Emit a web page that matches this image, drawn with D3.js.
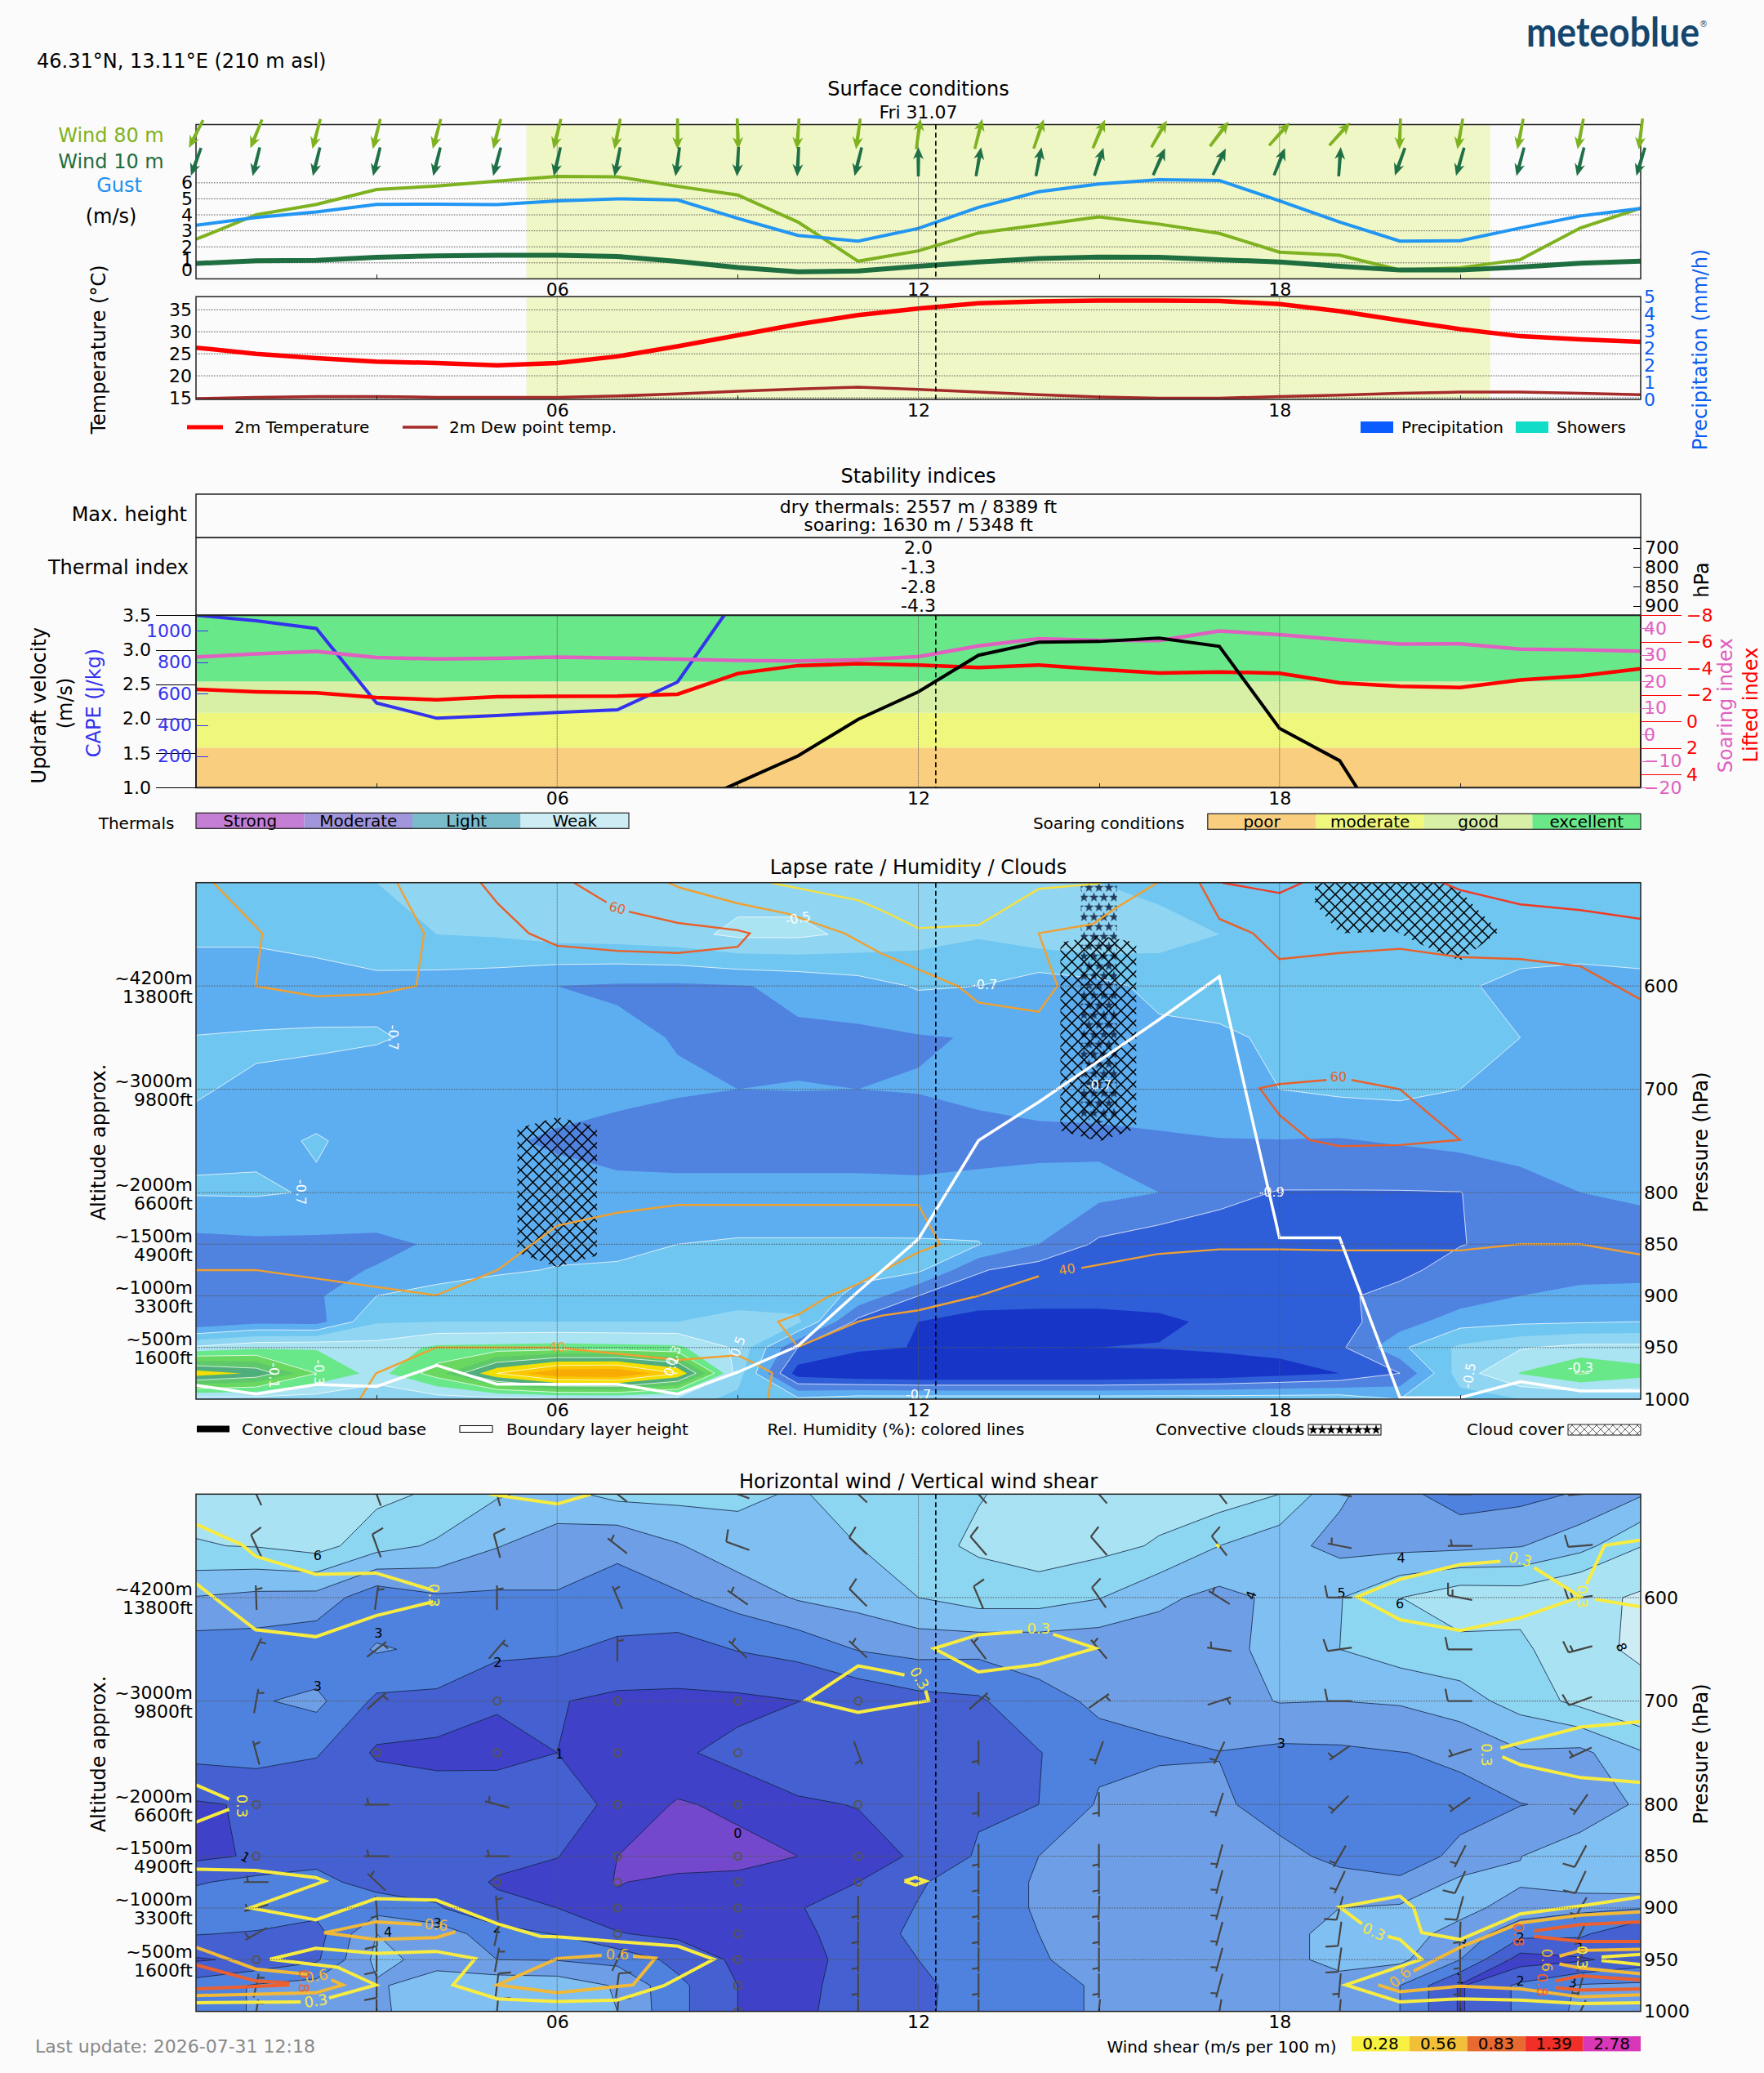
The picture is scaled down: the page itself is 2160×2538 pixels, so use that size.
<!DOCTYPE html>
<html>
<head>
<meta charset="utf-8">
<script src="https://cdn.jsdelivr.net/npm/d3@7"></script>
<style>
  html, body { margin: 0; padding: 0; background: #fbfbfb; }
  svg { display: block; font-family: "DejaVu Sans"; }
  .tick line { shape-rendering: crispEdges; }
</style>
</head>
<body>
<script>
// hours of the day, one value per hour
const hours = d3.range(25);
const hourTicks = [6, 12, 18];
const minorHourTicks = [3, 9, 15, 21];
const nowHour = 12.29;
const sunHours = [5.49, 21.5];

// surface conditions
const wind80 = [2.47,4.0,4.65,5.58,5.8,6.1,6.4,6.38,5.78,5.24,3.55,1.1,1.75,2.87,3.36,3.87,3.42,2.84,1.67,1.47,0.56,0.69,1.2,3.18,4.42];
const wind10 = [0.96,1.13,1.16,1.35,1.44,1.47,1.47,1.4,1.09,0.71,0.44,0.49,0.78,1.05,1.27,1.36,1.35,1.2,1.05,0.78,0.55,0.55,0.73,0.98,1.11];
const gust = [3.35,3.84,4.18,4.65,4.67,4.64,4.87,5.0,4.93,3.78,2.71,2.36,3.15,4.47,5.44,5.93,6.2,6.15,4.87,3.55,2.36,2.38,3.18,3.93,4.4];
const arrow80 = [207,202,195,194,195,194,194,191,180,178,184,188,8,14,19,23,30,37,42,42,182,190,191,191,187];
const arrow10 = [200,194,194,194,194,195,193,191,188,183,183,194,0,10,11,18,24,26,22,4,200,196,195,194,197];
const windTicks = [0,1,2,3,4,5,6];
const temperature = [26.4,25,24,23.2,22.9,22.4,22.9,24.4,26.7,29.2,31.7,33.8,35.3,36.5,36.9,37.1,37.1,37,36.3,34.7,32.6,30.6,29,28.3,27.7];
const dewPoint = [14.8,15.1,15.3,15.3,15.1,15.07,15.1,15.4,15.9,16.5,17,17.4,16.9,16.3,15.7,15.2,14.9,14.9,15.3,15.6,16,16.3,16.3,16,15.7];
const tempTicks = [15,20,25,30,35];
const precipTicks = [0,0.83,1.67,2.5,3.33,4.17,5];
const precipLabels = ["0","1","2","2","3","4","5"];

// stability indices
const capeHours = d3.range(10);
const cape = [1100,1065,1016,540,443,460,480,497,674,1225];
const updraftHours = d3.range(8,21);
const updraft = [0.68,1.07,1.46,1.99,2.39,2.92,3.11,3.12,3.17,3.05,1.86,1.39,0.02];
const soaring = [29.2,30.4,31.3,29,28.5,28.7,29.2,28.8,28.4,27.9,27.7,28.2,29.3,33.4,36.1,35.5,35.4,39,37.6,35.7,34.1,34.2,32.2,31.9,31.4];
const lifted = [-2.42,-2.24,-2.15,-1.81,-1.64,-1.87,-1.89,-1.91,-2.05,-3.61,-4.21,-4.35,-4.25,-4.06,-4.25,-3.92,-3.65,-3.73,-3.63,-2.91,-2.65,-2.56,-3.12,-3.43,-3.98];
const updraftTicks = [1,1.5,2,2.5,3,3.5];
const capeTicks = [200,400,600,800,1000];
const soaringTicks = [-20,-10,0,10,20,30,40];
const liftedTicks = [-8,-6,-4,-2,0,2,4];
const soarBands = [1,1.58,2.085,2.54,3.5];
const soarNames = ["poor","moderate","good","excellent"];
const soarColors = ["#f9cf7f","#eff77c","#d7f0a5","#69e88a"];
const thermalNames = ["Strong","Moderate","Light","Weak"];
const thermalColors = ["#c47ed4","#a195db","#7bbccc","#ceecf3"];
const thermalLevels = [700,800,850,900];
const thermalIndex = ["2.0","-1.3","-2.8","-4.3"];

// pressure levels of the model grid, top to bottom
const levels = [500,550,600,650,700,750,800,850,875,900,925,950,975,1000];
const pressureTicks = [600,700,800,850,900,950,1000];
const altitudeTicks = [600,700,800,850,900,950];
const altitudeM = ["~4200m","~3000m","~2000m","~1500m","~1000m","~500m"];
const altitudeFt = ["13800ft","9800ft","6600ft","4900ft","3300ft","1600ft"];

// lapse rate per level
const lapse500 = [-.65,-.65,-.63,-.60,-.57,-.56,-.55,-.55,-.55,-.54,-.54,-.55,-.55,-.56,-.58,-.60,-.63,-.64,-.65,-.65,-.65,-.65,-.65,-.65,-.65];
const lapse550 = [-.68,-.68,-.65,-.63,-.60,-.59,-.56,-.55,-.53,-.48,-.48,-.52,-.56,-.59,-.54,-.52,-.56,-.60,-.62,-.63,-.64,-.65,-.66,-.66,-.66];
const lapse600 = [-.76,-.76,-.76,-.73,-.745,-.76,-.80,-.812,-.815,-.805,-.785,-.745,-.69,-.70,-.757,-.73,-.67,-.66,-.64,-.64,-.65,-.69,-.72,-.73,-.72];
const lapse650 = [-.697,-.69,-.685,-.692,-.72,-.74,-.76,-.78,-.805,-.82,-.81,-.82,-.807,-.795,-.74,-.74,-.725,-.715,-.685,-.66,-.65,-.66,-.70,-.75,-.76];
const lapse700 = [-.695,-.71,-.73,-.75,-.76,-.77,-.77,-.77,-.79,-.80,-.798,-.80,-.795,-.78,-.76,-.76,-.74,-.72,-.70,-.681,-.674,-.70,-.74,-.77,-.785];
const lapse750 = [-.716,-.715,-.695,-.72,-.75,-.79,-.81,-.84,-.85,-.85,-.85,-.85,-.85,-.83,-.825,-.82,-.815,-.805,-.803,-.807,-.79,-.77,-.75,-.76,-.77];
const lapse800 = [-.692,-.69,-.707,-.73,-.74,-.75,-.77,-.77,-.77,-.77,-.77,-.77,-.775,-.775,-.767,-.77,-.80,-.875,-.905,-.905,-.905,-.902,-.85,-.80,-.78];
const lapse850 = [-.83,-.82,-.82,-.82,-.79,-.76,-.73,-.72,-.70,-.69,-.69,-.69,-.69,-.695,-.80,-.92,-.96,-.95,-.99,-.99,-.98,-.905,-.86,-.84,-.86];
const lapse875 = [-.83,-.83,-.82,-.795,-.75,-.715,-.694,-.69,-.68,-.665,-.65,-.68,-.68,-.89,-.95,-.96,-.96,-.96,-.96,-.96,-.93,-.85,-.85,-.84,-.85];
const lapse900 = [-.86,-.85,-.815,-.70,-.66,-.64,-.645,-.66,-.66,-.65,-.65,-.72,-.90,-.96,-.96,-.96,-.96,-.95,-.94,-.92,-.86,-.86,-.80,-.77,-.75];
const lapse925 = [-.89,-.83,-.84,-.61,-.60,-.60,-.60,-.60,-.60,-.56,-.58,-.93,-1.0,-1.03,-1.04,-1.04,-1.02,-.98,-.96,-.93,-.85,-.74,-.72,-.71,-.70];
const lapse950 = [-.48,-.42,-.41,-.46,-.38,-.37,-.36,-.37,-.38,-.52,-.9,-.98,-1.005,-1.01,-1.01,-1.0,-.995,-.98,-.97,-.92,-.72,-.58,-.51,-.47,-.47];
const lapse975 = [.06,-.02,-.30,-.44,-.25,.10,.30,.32,.10,-.55,-1.05,-1.1,-1.12,-1.12,-1.12,-1.12,-1.10,-1.08,-1.04,-1.0,-.90,-.55,-.395,-.29,-.36];
const lapse1000 = [-.55,-.55,-.55,-.58,-.55,-.54,-.52,-.52,-.55,-.63,-.68,-.64,-.64,-.64,-.64,-.64,-.64,-.64,-.64,-.64,-.70,-.64,-.60,-.60,-.60];
const lapseLevels = [-1,-.9,-.8,-.7,-.6,-.5,-.4,-.3,-.2,-.1,0,.1,.2];
const lapseColors = ["#1736c8","#2f5fd8","#5082e0","#5daef0","#6fc6f0","#90d6f3","#aae3f2","#69e88a","#68d860","#5ec86a","#4fae7c","#f5df00","#fbc800","#f9ab05"];
const lapseLines = [-.9,-.7,-.5,-.3,-.1,.1];
const lapseLabels = [
  ["-0.5",10,534.5,-10],["-0.7",3.28,650,90],["-0.7",1.74,799.6,90],["-0.7",13.1,599,0],["-0.7",15,696,0],
  ["-0.9",17.87,799.6,0],["-0.5",21.15,977,-80],["-0.3",23,969.5,0],["-0.7",12,995.6,0],["-0.1",1.29,977,90],
  ["-0.3",2.04,974,90],["-0.3",7.92,960,-70],["0.1",7.9,968,-70],["0.5",9,949,-70]
];

// relative humidity contour lines as [hour, hPa] paths
const rhLines = [
  {c:"#f0a030", p:[[.29,500],[1.1,549],[.99,600],[1.99,610],[2.99,608],[3.66,600],[3.79,549],[3.34,500]]},
  {c:"#e8602a", p:[[4.73,500],[5.01,520],[5.53,549],[6,561],[7,566],[8.01,568],[9,562],[9.2,549],[9,546],[8.01,539],[7.19,528]]},
  {c:"#e8602a", p:[[6.82,519],[6.28,500]]},
  {c:"#f0a030", p:[[7.84,500],[8.05,505],[9,520],[9.83,530],[10.77,549],[11.4,569],[12,584],[12.65,600],[13,616],[14,625],[14.31,600],[14,549],[14.9,540],[15.27,525],[15.97,500]]},
  {c:"#f5e040", p:[[9.55,500],[11,517],[11.4,527],[12,544],[13,541],[14,506],[15.03,500.5]]},
  {c:"#e8602a", p:[[16.67,500],[17,535],[17.56,549],[18,574],[19,568],[20,564],[21,572],[22,574],[23,581],[24,613]]},
  {c:"#ef3a25", p:[[17.05,500],[18,510],[18.38,500]]},
  {c:"#ef3a25", p:[[20.71,500],[21,507],[22,521],[23,526.5],[24,535]]},
  {c:"#e8602a", p:[[18.78,691],[18,695],[17.67,699],[18,725],[18.5,749],[19,755],[20,754],[21,749],[20,700],[19.2,691]]},
  {c:"#f0a030", p:[[0,875],[.99,875],[3.99,899.4],[5.01,875],[6,832],[7,819.5],[8.01,812],[11.4,812],[12,812],[12.36,850],[12,858],[11.39,876],[11,888.5],[10.49,901],[10.02,917.6],[9.67,925],[10,949.5],[11,925],[11.4,919],[12,914],[13,900],[14,881]]},
  {c:"#f0a030", p:[[14.71,873],[15.97,859.5],[17,855],[18,855],[19,856],[21,856],[22,850],[23,850],[24,860]]},
  {c:"#f0a030", p:[[2.72,1000],[2.99,975],[3.99,950],[5.86,950]]},
  {c:"#f0a030", p:[[6.14,951],[8.01,962],[9,957.5],[9.32,966.6],[9.57,974.6],[9.5,1000]]}
];
const rhLabels = [["60",7,524.7,"#e8602a",15],["40",6,949.5,"#f0a030",0],["40",14.47,874.4,"#f0a030",-10],["60",18.98,688,"#e8602a",0]];

// cloud cover and convective clouds outlines as [hour, hPa]
const cloudCover = [
  [[5.34,738],[6,727],[6.66,736],[6.66,861],[6,872],[5.34,858]],
  [[14.36,558],[15,551],[15.62,558],[15.62,738],[15,750.5],[14.36,740]],
  [[18.59,500],[18.59,520],[19,549],[19.93,547],[20.36,560],[21,575.5],[21.65,547],[21.25,523.6],[21.02,509],[20.69,500]]
];
const convective = [[14.7,500],[15.3,500],[15.3,727],[15,733],[14.7,727]];

// boundary layer height in hPa
const boundaryLayer = [986.6,995,985.8,987.7,967.3,985.5,985.5,985.5,995,973.9,948.4,895.8,845,749.5,712.4,672.5,632.5,590.8,843.9,843.9,998.6,998.6,983,992,992];

// wind speed per level
const wind500 = [6.3,6.4,6.4,6.25,5.85,5.1,4.7,5.3,5.3,5.2,4.9,5.4,5.7,5.95,6.3,6.5,6.4,6.55,6.0,4.15,3.3,2.5,2.7,3.1,3.9];
const wind550 = [5.95,6.05,6.4,5.39,4.85,4.05,3.47,3.13,3.92,4.6,4.8,5.0,5.7,6.15,6.53,6.3,5.9,5.0,4.33,3.7,3.7,3.75,3.95,4.65,5.95];
const wind600 = [3.95,3.72,3.65,2.3,2.85,2.82,2.92,2.75,2.84,3.42,4.1,4.4,5.0,5.47,5.47,5.05,4.2,3.72,4.2,4.95,5.98,6.7,6.6,7.3,8.3];
const wind650 = [2.47,2.5,2.2,3.1,2.8,2.25,2.15,1.75,1.59,2.05,2.33,3.05,3.33,3.27,3.27,3.23,3.46,3.85,4.15,5.0,5.5,5.64,5.63,7.3,8.4];
const wind700 = [2.5,2.9,3.25,1.8,1.75,1.16,1.05,.81,.81,.8,.99,1.2,1.67,1.85,2.8,3.1,3.2,3.6,4.05,4.0,4.1,4.59,5.4,6.3,7.1];
const wind750 = [2.3,2.4,2.1,.85,.68,.54,1.0,.7,.9,1.2,1.5,1.6,1.6,1.6,1.95,2.8,2.9,2.98,2.77,2.82,2.98,3.12,3.9,3.75,4.9];
const wind800 = [.9,1.1,1.1,1.8,1.6,1.9,1.3,.85,.45,.6,.9,1.03,1.5,1.85,2.0,3.1,3.3,3.1,2.75,2.7,2.65,2.8,2.97,3.2,4.2];
const wind850 = [.8,1.1,1.7,1.7,1.6,1.3,1.02,.5,.3,.35,.5,.7,1.1,2.13,3.0,3.4,3.6,3.5,3.17,2.85,2.7,3.14,3.98,4.7,4.9];
const wind875 = [1.9,2.3,2.3,1.6,1.6,.9,.75,.48,.6,.62,.7,1.0,1.9,2.5,3.1,3.5,3.6,3.6,3.4,3.2,3.1,4.24,4.1,4.6,4.8];
const wind900 = [2.6,2.7,2.35,2.6,2.1,1.26,1.0,.58,.7,.8,.95,1.4,2.05,2.5,3.1,3.6,3.6,3.7,3.6,4.0,4.15,4.3,3.6,3.2,3.05];
const wind925 = [2.05,1.9,1.6,4.0,3.6,2.4,1.95,1.05,.8,.7,.85,1.3,2.3,2.5,3.0,3.6,3.7,3.7,3.7,4.3,4.4,3.65,2.3,2.2,1.0];
const wind950 = [.9,1.2,1.85,4.25,3.7,3.0,2.95,2.7,1.7,.8,.8,1.2,2.0,2.55,2.85,3.6,3.7,3.7,3.8,4.2,4.2,3.0,.55,.85,1.5];
const wind975 = [2.47,3.1,3.4,3.9,4.4,4.7,4.6,3.9,2.25,1.0,.8,1.3,1.75,2.5,2.7,3.1,3.7,3.7,3.7,3.75,3.0,.9,2.2,3.1,3.2];
const wind1000 = [2.5,3.1,3.5,3.9,4.3,4.5,4.4,4.0,2.25,1.0,.85,1.3,1.75,2.6,2.7,3.1,3.7,3.7,3.7,3.5,3.0,.9,2.2,3.2,3.4];
const windLevels = [.5,1,2,3,4,5,6,8];
const windColors = ["#7448cc","#3f42c8","#4560d0","#4f82de","#6e9fe6","#80bff2","#8dd6f2","#a9e2f2","#cdecf3"];
const windLabels = [
  ["6",2.02,559.5,0],["3",3.03,634.7,0],["3",2.02,685.5,0],["2",5.01,662.6,0],["1",6.04,751,0],["0",9,827.5,0],["1",.82,851,30],
  ["4",3.19,923.7,0],["3",4.01,915,0],["2",5,919,0],["4",20.02,561.5,0],["5",19.03,595.8,0],["6",20,606,0],["4",17.53,597.7,-70],
  ["3",18.03,740.8,0],["8",23.68,648,70],["2",22,928.6,0],["3",21.05,934,0],["1",23,938,0],["1",21,968.7,0],["2",22,970.6,0],["3",22.87,972.5,0]
];

// wind barbs: direction the wind comes from, at odd hours, null = calm
const barbHours = [1,3,5,7,9,11,13,15,17,19,21,23];
const barb500 = [335,340,345,308,290,313,319,319,322,281,270,265];
const barb550 = [335,340,345,308,290,313,319,319,322,281,270,265];
const barb600 = [358,8,0,337,305,315,337,325,302,270,281,262];
const barb650 = [25,52,41,0,313,313,323,320,278,262,270,255];
const barb700 = [10,48,null,null,null,null,48,55,72,270,270,250];
const barb750 = [345,null,null,null,null,160,180,200,205,235,252,245];
const barb800 = [null,270,285,null,null,null,180,180,198,225,235,215];
const barb850 = [null,270,270,null,null,null,180,180,195,210,207,208];
const barb875 = [270,313,null,null,null,null,180,180,195,205,205,205];
const barb900 = [255,175,355,null,null,180,180,182,195,195,195,210];
const barb925 = [240,178,12,null,null,180,180,180,195,188,182,205];
const barb950 = [null,180,10,25,null,180,180,180,195,188,180,195];
const barb975 = [12,180,7,7,null,180,180,180,195,185,180,195];
const barb1000 = [10,180,5,5,null,180,180,185,190,185,180,205];

// wind shear contour lines as [hour, hPa] paths
const shearYellow = "#f8ec40", shearOrange = "#f2b838", shearRed = "#ec6030";
const shearLines = [
  {c:shearYellow, p:[[0,529],[.76,548.9],[.99,560],[1.99,577.5],[2.99,576.3],[3.94,593]]},
  {c:shearYellow, p:[[3.94,604],[2.99,617.5],[1.99,637.8],[.99,631],[0,586.3]]},
  {c:shearYellow, p:[[4.87,500],[6,509.5],[6.56,500]]},
  {c:shearYellow, p:[[0,781],[.55,795]]},
  {c:shearYellow, p:[[.55,804.6],[0,817]]},
  {c:shearYellow, p:[[0,862.6],[.99,863.7],[1.99,870.6],[2.14,874],[.9,900],[1.99,911.5],[2.99,891],[3.99,892.4],[5.01,915.3],[5.72,927.5],[6,927.9],[8.01,937],[8.6,949.6],[7.77,975.2],[7,989],[6,990.5],[5.01,987.8],[4.27,974.4],[4.64,948.9],[3.99,942],[2.99,943.9],[1.99,939],[1.23,949.6],[2.35,957.3],[2.99,974.4],[2.21,987]]},
  {c:shearYellow, p:[[1.74,990.8],[0,991.6]]},
  {c:shearOrange, p:[[0,938],[.99,959],[1.83,964]]},
  {c:shearOrange, p:[[2.25,969.5],[2.44,974.4],[1.99,982],[0,984.7]]},
  {c:shearOrange, p:[[3.75,916],[2.99,913.4],[2.13,924],[2.99,930.5],[3.99,928.6],[4.31,923]]},
  {c:shearOrange, p:[[6.74,945.8],[6,948.9],[5.01,974.4],[6,982],[7.26,974.4],[7.63,948.5],[7.26,946.6]]},
  {c:shearRed, p:[[0,955],[.99,970.6],[1.55,972.5]]},
  {c:shearRed, p:[[0,978.2],[1.55,974.4]]},
  {c:shearYellow, p:[[11.77,674.8],[11.39,670.2],[11,666],[10.14,698.9],[11,711],[11.39,707],[12.17,699.6],[12.12,690]]},
  {c:shearYellow, p:[[13.73,632.8],[13,635.9],[12.26,649.2],[13,671.8],[14,664.5],[14.94,648.9],[14.24,635.5]]},
  {c:shearYellow, p:[[21.67,564.9],[21,568],[20,582.4],[19.29,599.2],[20,621.4],[21,631.7],[22,619.5],[23,599.2],[22.23,571]]},
  {c:shearYellow, p:[[23.1,587],[23.4,549.6],[24,544.3]]},
  {c:shearYellow, p:[[23.24,601.5],[24,609]]},
  {c:shearYellow, p:[[16.95,548.5],[17,551]]},
  {c:shearYellow, p:[[11.77,874],[11.95,870.6],[12.12,874],[11.95,877.8],[11.77,874]]},
  {c:shearYellow, p:[[21.67,745.4],[23,725.2],[24,719.8]]},
  {c:shearYellow, p:[[21.7,753.8],[22,761.5],[23,774],[24,778.6]]},
  {c:shearYellow, p:[[19.37,915.3],[19,899.2],[20,888.5],[20.23,900],[20.36,923.7],[21,930.5],[22,905.7],[23,898],[24,889.3]]},
  {c:shearYellow, p:[[19.8,927.5],[20,930.5],[20.36,949.6],[19.1,974.4],[20,990.8],[21,987.8],[22,989],[23,992.4],[24,991.6]]},
  {c:shearYellow, p:[[23.35,947.5],[24,944.8]]},
  {c:shearYellow, p:[[23.35,950.8],[24,954.8]]},
  {c:shearOrange, p:[[19.64,974.4],[20,981],[21,975.6],[22,978.2],[23,986],[24,984]]},
  {c:shearOrange, p:[[20.23,961],[21,938],[22,914.5],[23,906.9],[24,903.8]]},
  {c:shearOrange, p:[[22.65,946.6],[23,941],[24,940]]},
  {c:shearOrange, p:[[22.65,954.2],[23,958],[24,963.7]]},
  {c:shearRed, p:[[22.23,922.1],[23,916],[24,913.4]]},
  {c:shearRed, p:[[22.23,927.5],[23,932.4],[24,932.4]]},
  {c:shearRed, p:[[22.58,970.6],[23,965.6],[24,969.5]]},
  {c:shearRed, p:[[22.58,977],[23,979.4],[24,978.2]]}
];
const shearLabels = [
  ["0.3",3.96,598,shearYellow,90],["0.3",.76,801.5,shearYellow,90],["0.3",1.99,989.7,shearYellow,-8],["0.3",14,630,shearYellow,0],
  ["0.3",12.02,677.9,shearYellow,60],["0.3",22,562.6,shearYellow,15],["0.3",23.03,599,shearYellow,90],["0.3",21.44,752,shearYellow,90],
  ["0.3",19.57,922.9,shearYellow,25],["0.3",23.03,947.7,shearYellow,90],["0.6",2,965.6,shearOrange,-10],["0.6",3.99,916,shearOrange,5],
  ["0.6",7,945,shearOrange,0],["0.6",20,966.8,shearOrange,-40],["0.6",22.44,950.4,shearOrange,90],["0.8",1.8,970.6,shearRed,90],
  ["0.8",21.97,926,shearRed,90],["0.8",22.37,974.4,shearRed,90]
];
const shearLegendValues = ["0.28","0.56","0.83","1.39","2.78"];
const shearLegendColors = ["#f8f040","#f2c038","#e86a30","#f03028","#d838b8"];

const lapseGrid = [lapse500,lapse550,lapse600,lapse650,lapse700,lapse750,lapse800,lapse850,lapse875,lapse900,lapse925,lapse950,lapse975,lapse1000];
const windGrid = [wind500,wind550,wind600,wind650,wind700,wind750,wind800,wind850,wind875,wind900,wind925,wind950,wind975,wind1000];
const barbGrid = [barb500,barb550,barb600,barb650,barb700,barb750,barb800,barb850,barb875,barb900,barb925,barb950,barb975,barb1000];

// layout
const W = 2160, H = 2538;
const left = 240, right = 2009;
const tickFont = 22, labelFont = 24, legendFont = 20, titleFont = 24;

const svg = d3.select("body").append("svg").attr("width", W).attr("height", H)
  .attr("viewBox", [0, 0, W, H]);
svg.append("rect").attr("width", W).attr("height", H).attr("fill", "#fbfbfb");
const defs = svg.append("defs");

const xScale = d3.scaleLinear().domain([0, 24]).range([left, right]);

function addText(x, y, str, o = {}) {
  const t = svg.append("text").attr("x", x).attr("y", y).text(str)
    .attr("font-size", o.size || tickFont)
    .attr("fill", o.color || "#000")
    .attr("text-anchor", o.anchor || "middle")
    .attr("dominant-baseline", "central");
  if (o.rotate) t.attr("transform", `rotate(${o.rotate} ${x} ${y})`);
  if (o.weight) t.attr("font-weight", o.weight);
  return t;
}

function clipFor(id, top, bottom) {
  defs.append("clipPath").attr("id", id).append("rect")
    .attr("x", left).attr("y", top).attr("width", right - left).attr("height", bottom - top);
}

function styleAxis(g, color, size) {
  g.select(".domain").remove();
  g.selectAll("text").attr("font-size", size || tickFont).attr("fill", color || "#000").attr("font-family", "DejaVu Sans");
  g.selectAll("line").attr("stroke", color || "#000");
  return g;
}

function hourAxes(top, bottom) {
  const major = d3.axisBottom(xScale).tickValues(hourTicks).tickSize(0).tickPadding(5)
    .tickFormat(d3.format("02d"));
  styleAxis(svg.append("g").attr("transform", `translate(0,${bottom})`).call(major));
  const minor = d3.axisBottom(xScale).tickValues(minorHourTicks).tickSize(-5).tickFormat("");
  styleAxis(svg.append("g").attr("transform", `translate(0,${bottom})`).call(minor), "#222");
  svg.append("g").selectAll("line").data(hourTicks).join("line")
    .attr("x1", d => xScale(d)).attr("x2", d => xScale(d)).attr("y1", top).attr("y2", bottom)
    .attr("stroke", "#555").attr("stroke-width", 1).attr("stroke-dasharray", "1,1");
}

function hGrid(values, y) {
  svg.append("g").selectAll("line").data(values).join("line")
    .attr("x1", left).attr("x2", right).attr("y1", d => y(d)).attr("y2", d => y(d))
    .attr("stroke", "#555").attr("stroke-width", 1).attr("stroke-dasharray", "1,1");
}

function frame(top, bottom, width) {
  svg.append("rect").attr("x", left).attr("y", top).attr("width", right - left).attr("height", bottom - top)
    .attr("fill", "none").attr("stroke", "#222").attr("stroke-width", width || 1.5);
}

function nowLine(top, bottom) {
  svg.append("line").attr("x1", xScale(nowHour)).attr("x2", xScale(nowHour)).attr("y1", top).attr("y2", bottom)
    .attr("stroke", "#000").attr("stroke-width", 1.6).attr("stroke-dasharray", "6,4");
}

function sunBand(top, bottom) {
  svg.append("rect").attr("x", xScale(sunHours[0])).attr("y", top)
    .attr("width", xScale(sunHours[1]) - xScale(sunHours[0])).attr("height", bottom - top)
    .attr("fill", "#f0f7c6");
}

function drawSeries(xs, ys, y, color, width, clip) {
  const line = d3.line().x((d, i) => xScale(xs[i])).y(d => y(d));
  const p = svg.append("path").attr("d", line(ys)).attr("fill", "none")
    .attr("stroke", color).attr("stroke-width", width).attr("stroke-linejoin", "miter");
  if (clip) p.attr("clip-path", `url(#${clip})`);
}

// ---- header
addText(45, 75, "46.31°N, 13.11°E (210 m asl)", { anchor: "start", size: titleFont });
svg.append("text").attr("x", 1869).attr("y", 57).text("meteoblue")
  .attr("font-family", "Lato").attr("font-weight", 700).attr("font-size", 50)
  .attr("fill", "#14466e").attr("textLength", 212).attr("lengthAdjust", "spacingAndGlyphs");
addText(2086, 29, "®", { size: 10, color: "#14466e" });

// ---- surface winds
const windTop = 152.5, windBottom = 341.4;
clipFor("clipWind", windTop, windBottom);
const yWind = d3.scaleLinear().domain([0, 9.64]).range([windBottom, windTop]);
addText(1124.5, 109, "Surface conditions", { size: titleFont });
addText(1124.5, 137.5, "Fri 31.07", { size: tickFont });
sunBand(windTop, windBottom);
hGrid(windTicks.slice(1), yWind);
drawSeries(hours, wind80, yWind, "#7fb220", 4, "clipWind");
drawSeries(hours, gust, yWind, "#2196f3", 4, "clipWind");
drawSeries(hours, wind10, yWind, "#1f6e40", 6, "clipWind");
hourAxes(windTop, windBottom);
frame(windTop, windBottom);
nowLine(windTop, windBottom);
const windAxis = styleAxis(svg.append("g").attr("transform", `translate(${left},0)`)
  .call(d3.axisLeft(yWind).tickValues(windTicks).tickSize(0).tickPadding(4)), "#000", tickFont);
windAxis.selectAll(".tick text").attr("transform", d => d === 0 ? "translate(0,-11)" : d === 1 ? "translate(0,-3)" : "");

// arrows, constant length, only the direction changes
function drawArrows(dirs, cy, L, color) {
  const shaft = 2.2, headL = 15, notch = 3, headW = 6.5;
  const tip = -L / 2, back = tip + headL;
  svg.append("g").selectAll("path").data(dirs).join("path")
    .attr("d", `M${-shaft * 0.8},${L / 2} L${shaft * 0.8},${L / 2} L${shaft},${back - notch} L${headW},${back} L0,${tip} L${-headW},${back} L${-shaft},${back - notch} Z`)
    .attr("transform", (d, i) => `translate(${xScale(i)},${cy}) rotate(${d})`)
    .attr("fill", color);
}
drawArrows(arrow80, 164, 38, "#7fb220");
drawArrows(arrow10, 198, 36, "#1f7046");
addText(136, 166, "Wind 80 m", { size: labelFont, color: "#7fb220" });
addText(136, 198, "Wind 10 m", { size: labelFont, color: "#1f6e40" });
addText(146, 227, "Gust", { size: labelFont, color: "#2090f0" });
addText(136, 265, "(m/s)", { size: labelFont });

// ---- temperature
const tempTop = 363.2, tempBottom = 489;
clipFor("clipTemp", tempTop, tempBottom);
const yTemp = d3.scaleLinear().domain([15, 35]).range([487, 379.3]);
const yPrecip = d3.scaleLinear().domain([0, 5]).range([tempBottom, tempTop]);
sunBand(tempTop, tempBottom);
hGrid(tempTicks, yTemp);
drawSeries(hours, dewPoint, yTemp, "#a52a2a", 3.5, "clipTemp");
drawSeries(hours, temperature, yTemp, "#ff0000", 5.5, "clipTemp");
hourAxes(tempTop, tempBottom);
frame(tempTop, tempBottom);
nowLine(tempTop, tempBottom);
styleAxis(svg.append("g").attr("transform", `translate(${left},0)`)
  .call(d3.axisLeft(yTemp).tickValues(tempTicks).tickSize(0).tickPadding(5)));
styleAxis(svg.append("g").attr("transform", `translate(${right},0)`)
  .call(d3.axisRight(yPrecip).tickValues(precipTicks).tickSize(0).tickPadding(4)
    .tickFormat((d, i) => precipLabels[i])), "#0a5ef0");
addText(120.5, 428, "Temperature (°C)", { size: labelFont, rotate: -90 });
addText(2082, 428, "Precipitation (mm/h)", { size: labelFont, rotate: -90, color: "#0a5ef0" });

function legendLine(x1, x2, y, color, width, label, tx) {
  svg.append("line").attr("x1", x1).attr("x2", x2).attr("y1", y).attr("y2", y)
    .attr("stroke", color).attr("stroke-width", width);
  addText(tx, y, label, { anchor: "start", size: legendFont });
}
legendLine(229, 273, 523, "#ff0000", 5, "2m Temperature", 287);
legendLine(493, 536, 523, "#a52a2a", 3.5, "2m Dew point temp.", 550);
svg.append("rect").attr("x", 1666).attr("y", 516).attr("width", 40).attr("height", 14).attr("fill", "#0a5cff");
addText(1716, 523, "Precipitation", { anchor: "start", size: legendFont });
svg.append("rect").attr("x", 1856).attr("y", 516).attr("width", 40).attr("height", 14).attr("fill", "#10dcc8");
addText(1906, 523, "Showers", { anchor: "start", size: legendFont });

// ---- stability
addText(1124.5, 582.7, "Stability indices", { size: titleFont });
const maxTop = 605, maxBottom = 658.3, stabTop = 753.3, stabBottom = 964.3;
clipFor("clipStab", stabTop, stabBottom);
frame(maxTop, maxBottom);
frame(maxBottom, stabTop);
addText(1124.5, 620, "dry thermals: 2557 m / 8389 ft", { size: tickFont });
addText(1124.5, 642.7, "soaring: 1630 m / 5348 ft", { size: tickFont });
addText(229, 630, "Max. height", { anchor: "end", size: labelFont });
addText(231, 695, "Thermal index", { anchor: "end", size: labelFont });
const yThermal = d3.scalePoint().domain(thermalLevels).range([670.7, 741.7]);
svg.append("g").selectAll("text").data(thermalLevels).join("text")
  .attr("x", xScale(12)).attr("y", d => yThermal(d)).text((d, i) => thermalIndex[i])
  .attr("text-anchor", "middle").attr("dominant-baseline", "central").attr("font-size", tickFont);
styleAxis(svg.append("g").attr("transform", `translate(${right},0)`)
  .call(d3.axisRight(yThermal).tickSize(-9).tickPadding(5)), "#000");
addText(2084, 710, "hPa", { size: labelFont, rotate: -90 });

const yUpdraft = d3.scaleLinear().domain([1, 3.5]).range([stabBottom, stabTop]);
const yCape = d3.scaleLinear().domain([0, 1100]).range([stabBottom, stabTop]);
const ySoaring = d3.scaleLinear().domain([-20, 40]).range([stabBottom, 769.3]);
const yLifted = d3.scaleLinear().domain([-8, 4]).range([stabTop, 948.3]);
svg.append("g").selectAll("rect").data(soarColors).join("rect")
  .attr("x", left).attr("width", right - left)
  .attr("y", (d, i) => yUpdraft(soarBands[i + 1]))
  .attr("height", (d, i) => yUpdraft(soarBands[i]) - yUpdraft(soarBands[i + 1]))
  .attr("fill", d => d);
drawSeries(capeHours, cape, yCape, "#3333ee", 4, "clipStab");
drawSeries(hours, soaring, ySoaring, "#e060c0", 4.5, "clipStab");
drawSeries(hours, lifted, yLifted, "#ff0000", 4.5, "clipStab");
drawSeries(updraftHours, updraft, yUpdraft, "#000", 4, "clipStab");
hourAxes(stabTop, stabBottom);
frame(stabTop, stabBottom, 2);
nowLine(stabTop, stabBottom);
styleAxis(svg.append("g").attr("transform", `translate(${left},0)`)
  .call(d3.axisLeft(yUpdraft).tickValues(updraftTicks).tickSize(49).tickPadding(6).tickFormat(d3.format(".1f"))));
styleAxis(svg.append("g").attr("transform", `translate(${left},0)`)
  .call(d3.axisLeft(yCape).tickValues(capeTicks).tickSize(-15).tickPadding(5).tickFormat(d3.format("d"))), "#3333ee");
const axisMinus = d => String(d).replace("-", "\u2212");
styleAxis(svg.append("g").attr("transform", `translate(${right},0)`)
  .call(d3.axisRight(ySoaring).tickValues(soaringTicks).tickSize(16).tickPadding(-12).tickFormat(axisMinus)), "#e060c0");
styleAxis(svg.append("g").attr("transform", `translate(${right},0)`)
  .call(d3.axisRight(yLifted).tickValues(liftedTicks).tickSize(50).tickPadding(6).tickFormat(axisMinus)), "#ff0000");
addText(48, 863.7, "Updraft velocity", { size: labelFont, rotate: -90 });
addText(80, 861, "(m/s)", { size: labelFont, rotate: -90 });
addText(115, 860.5, "CAPE (J/kg)", { size: labelFont, rotate: -90, color: "#3333ee" });
addText(2113, 863.8, "Soaring index", { size: labelFont, rotate: -90, color: "#e060c0" });
addText(2144, 863, "Lifted index", { size: labelFont, rotate: -90, color: "#ff0000" });

function swatchRow(x0, x1, top, bottom, names, colors) {
  const band = d3.scaleBand().domain(names).range([x0, x1]);
  svg.append("g").selectAll("rect").data(names).join("rect")
    .attr("x", d => band(d)).attr("y", top).attr("width", band.bandwidth()).attr("height", bottom - top)
    .attr("fill", (d, i) => colors[i]);
  svg.append("g").selectAll("text").data(names).join("text")
    .attr("x", d => band(d) + band.bandwidth() / 2).attr("y", (top + bottom) / 2).text(d => d)
    .attr("text-anchor", "middle").attr("dominant-baseline", "central").attr("font-size", legendFont);
  svg.append("rect").attr("x", x0).attr("y", top).attr("width", x1 - x0).attr("height", bottom - top)
    .attr("fill", "none").attr("stroke", "#222").attr("stroke-width", 1.2);
}
swatchRow(240, 770, 995.3, 1014.3, thermalNames, thermalColors);
addText(213.5, 1007.7, "Thermals", { anchor: "end", size: legendFont });
swatchRow(1478.8, 2009, 996.3, 1015.3, soarNames, soarColors);
addText(1450.5, 1008, "Soaring conditions", { anchor: "end", size: legendFont });

// ---- shared helpers for the two pressure panels
const rowPressure = d3.scaleLinear().domain(d3.range(levels.length)).range(levels);

function contourPanel(grid, thresholds, colors, y, clip) {
  const flat = grid.flat();
  const contours = d3.contours().size([hours.length, levels.length]).thresholds(thresholds)(flat);
  const project = d3.geoPath(d3.geoTransform({
    point(cx, cy) { this.stream.point(xScale(cx - 0.5), y(rowPressure(cy - 0.5))); }
  }));
  const g = svg.append("g").attr("clip-path", `url(#${clip})`);
  g.append("rect").attr("x", left).attr("y", y(500)).attr("width", right - left)
    .attr("height", y(1000) - y(500)).attr("fill", colors[0]);
  g.selectAll("path.fill").data(contours).join("path").attr("class", "fill")
    .attr("d", project).attr("fill", (d, i) => colors[i + 1]);
  return { g, contours, project };
}

function pathsFromData(list, y, width, clip) {
  const line = d3.line().x(d => xScale(d[0])).y(d => y(d[1]));
  svg.append("g").attr("clip-path", `url(#${clip})`).selectAll("path").data(list).join("path")
    .attr("d", d => line(d.p)).attr("fill", "none").attr("stroke", d => d.c)
    .attr("stroke-width", width).attr("stroke-linejoin", "miter");
}

function pressureAxes(y, yLabel, top, bottom) {
  styleAxis(svg.append("g").attr("transform", `translate(${right},0)`)
    .call(d3.axisRight(y).tickValues(pressureTicks).tickSize(0).tickPadding(4).tickFormat(d3.format("d"))));
  addText(120.5, yLabel, "Altitude approx.", { size: labelFont, rotate: -90 });
  addText(2083, yLabel, "Pressure (hPa)", { size: labelFont, rotate: -90 });
  svg.append("g").selectAll("text").data(altitudeTicks).join("text")
    .attr("x", 236).attr("y", d => y(d) - 10).text((d, i) => altitudeM[i])
    .attr("text-anchor", "end").attr("dominant-baseline", "central").attr("font-size", tickFont);
  svg.append("g").selectAll("text").data(altitudeTicks).join("text")
    .attr("x", 236).attr("y", d => y(d) + 13).text((d, i) => altitudeFt[i])
    .attr("text-anchor", "end").attr("dominant-baseline", "central").attr("font-size", tickFont);
  hGrid(altitudeTicks, y);
  hourAxes(top, bottom);
  frame(top, bottom);
  nowLine(top, bottom);
}

// ---- lapse rate
const lapseTop = 1080.7, lapseBottom = 1713;
clipFor("clipLapse", lapseTop, lapseBottom);
addText(1124.5, 1062, "Lapse rate / Humidity / Clouds", { size: titleFont });
const yLapse = d3.scaleLinear().domain([500, 1000]).range([lapseTop, lapseBottom]);
const lapsePanel = contourPanel(lapseGrid, lapseLevels, lapseColors, yLapse, "clipLapse");
lapsePanel.g.selectAll("path.line").data(lapsePanel.contours.filter(c => lapseLines.includes(c.value))).join("path")
  .attr("class", "line").attr("d", lapsePanel.project).attr("fill", "none")
  .attr("stroke", "#fff").attr("stroke-opacity", 0.75).attr("stroke-width", 1);

// hatch patterns for the clouds
const hatch = defs.append("pattern").attr("id", "hatch").attr("patternUnits", "userSpaceOnUse")
  .attr("width", 15).attr("height", 15);
hatch.append("path").attr("d", "M0,0L15,15M15,0L0,15M-3,12L3,18M12,-3L18,3M-3,3L3,-3M12,18L18,12")
  .attr("stroke", "#000").attr("stroke-width", 1.5);
const hatchLight = defs.append("pattern").attr("id", "hatchLight").attr("patternUnits", "userSpaceOnUse")
  .attr("width", 10).attr("height", 10);
hatchLight.append("path").attr("d", "M0,0L10,10M10,0L0,10")
  .attr("stroke", "#444").attr("stroke-width", 0.8);
const starPath = d3.symbol(d3.symbolStar).size(46)();
const stars = defs.append("pattern").attr("id", "stars").attr("patternUnits", "userSpaceOnUse")
  .attr("width", 24.4).attr("height", 24).attr("x", xScale(15) - 6.1).attr("y", lapseTop);
[[6.1, 6], [18.3, 6], [0, 18], [12.2, 18], [24.4, 18]].forEach(d => {
  stars.append("path").attr("d", starPath).attr("transform", `translate(${d[0]},${d[1]})`)
    .attr("fill", "#102040").attr("fill-opacity", 0.85);
});

const areaLine = d3.line().x(d => xScale(d[0])).y(d => yLapse(d[1]));
svg.append("path").attr("d", areaLine(convective) + "Z").attr("fill", "url(#stars)").attr("clip-path", "url(#clipLapse)");
svg.append("g").attr("clip-path", "url(#clipLapse)").selectAll("path").data(cloudCover).join("path")
  .attr("d", d => areaLine(d) + "Z").attr("fill", "url(#hatch)");

pathsFromData(rhLines, yLapse, 2.4, "clipLapse");
svg.append("path").attr("clip-path", "url(#clipLapse)")
  .attr("d", d3.line().x((d, i) => xScale(i)).y(d => yLapse(d))(boundaryLayer))
  .attr("fill", "none").attr("stroke", "#fff").attr("stroke-width", 3.5);

function contourLabels(list, y, size, colorFn) {
  svg.append("g").selectAll("text").data(list).join("text")
    .attr("transform", d => `translate(${xScale(d[1])},${y(d[2])}) rotate(${d.rot !== undefined ? d.rot : 0})`)
    .text(d => d[0]).attr("font-size", size).attr("text-anchor", "middle")
    .attr("dominant-baseline", "central").attr("fill", colorFn);
}
contourLabels(lapseLabels.map(d => Object.assign([...d], { rot: d[3] })), yLapse, 16, () => "#fff");
contourLabels(rhLabels.map(d => Object.assign([...d], { rot: d[4] })), yLapse, 16, d => d[3]);
pressureAxes(yLapse, 1398.5, lapseTop, lapseBottom);

// legend row under the lapse rate panel
svg.append("rect").attr("x", 241).attr("y", 1745.5).attr("width", 40).attr("height", 8).attr("fill", "#000");
addText(296, 1750, "Convective cloud base", { anchor: "start", size: legendFont });
svg.append("rect").attr("x", 563).attr("y", 1745.5).attr("width", 40).attr("height", 8)
  .attr("fill", "#fff").attr("stroke", "#000").attr("stroke-width", 1);
addText(620, 1750, "Boundary layer height", { anchor: "start", size: legendFont });
addText(939.5, 1750, "Rel. Humidity (%): colored lines", { anchor: "start", size: legendFont });
addText(1415, 1750, "Convective clouds", { anchor: "start", size: legendFont });
svg.append("rect").attr("x", 1602).attr("y", 1744).attr("width", 89).attr("height", 13)
  .attr("fill", "none").attr("stroke", "#000").attr("stroke-width", 1);
svg.append("g").selectAll("path").data(d3.range(8)).join("path")
  .attr("d", starPath).attr("fill", "#000")
  .attr("transform", d => `translate(${1608 + d * 11},1750.5)`);
addText(1796, 1750, "Cloud cover", { anchor: "start", size: legendFont });
svg.append("rect").attr("x", 1920).attr("y", 1744).attr("width", 89).attr("height", 13)
  .attr("fill", "url(#hatchLight)").attr("stroke", "#222").attr("stroke-width", 1);

// ---- horizontal wind and shear
const shearTop = 1829.3, shearBottom = 2462.6;
clipFor("clipShear", shearTop, shearBottom);
addText(1124.5, 1814, "Horizontal wind / Vertical wind shear", { size: titleFont });
const yShear = d3.scaleLinear().domain([500, 1000]).range([shearTop, shearBottom]);
const windPanel = contourPanel(windGrid, windLevels, windColors, yShear, "clipShear");
windPanel.g.selectAll("path.line").data(windPanel.contours).join("path")
  .attr("class", "line").attr("d", windPanel.project).attr("fill", "none")
  .attr("stroke", "#102040").attr("stroke-opacity", 0.8).attr("stroke-width", 1);
contourLabels(windLabels.map(d => Object.assign([...d], { rot: d[3] })), yShear, 16, () => "#000");

// barbs, speed taken from the wind speed grid
const barbLength = 30, fullFeather = 15, halfFeather = 8;
function barbPath(dir, speed) {
  const a = dir * Math.PI / 180;
  const ux = Math.sin(a), uy = -Math.cos(a);
  const px = -uy, py = ux;
  const h = barbLength / 2;
  let d = `M${-ux * h},${-uy * h}L${ux * h},${uy * h}`;
  const steps = Math.max(1, Math.round(speed * 1.944 / 5));
  const full = Math.floor(steps / 2), half = steps % 2;
  let s = h;
  if (full === 0) s -= 5;
  for (let i = 0; i < full; i++) {
    d += `M${ux * s},${uy * s}L${ux * (s + 3) + px * fullFeather},${uy * (s + 3) + py * fullFeather}`;
    s -= 5.5;
  }
  if (half) d += `M${ux * s},${uy * s}L${ux * (s + 1.5) + px * halfFeather},${uy * (s + 1.5) + py * halfFeather}`;
  return d;
}
const barbData = [];
levels.forEach((p, r) => barbHours.forEach((h, c) => {
  barbData.push({ h, p, dir: barbGrid[r][c], speed: windGrid[r][h] });
}));
const barbs = svg.append("g").attr("clip-path", "url(#clipShear)");
barbs.selectAll("path").data(barbData.filter(d => d.dir !== null)).join("path")
  .attr("transform", d => `translate(${xScale(d.h)},${yShear(d.p)})`)
  .attr("d", d => barbPath(d.dir, d.speed))
  .attr("fill", "none").attr("stroke", "#454545").attr("stroke-width", 2.2);
barbs.selectAll("circle").data(barbData.filter(d => d.dir === null)).join("circle")
  .attr("cx", d => xScale(d.h)).attr("cy", d => yShear(d.p)).attr("r", 4.6)
  .attr("fill", "none").attr("stroke", "#555").attr("stroke-width", 2);

pathsFromData(shearLines, yShear, 4, "clipShear");
contourLabels(shearLabels.map(d => Object.assign([...d], { rot: d[4] })), yShear, 18, d => d[3]);
pressureAxes(yShear, 2147.5, shearTop, shearBottom);

// footer
addText(43, 2505, "Last update: 2026-07-31 12:18", { anchor: "start", size: 22, color: "#888" });
addText(1636.5, 2506, "Wind shear (m/s per 100 m)", { anchor: "end", size: legendFont });
const shearBand = d3.scaleBand().domain(shearLegendValues).range([1655, 2009]);
svg.append("g").selectAll("rect").data(shearLegendValues).join("rect")
  .attr("x", d => shearBand(d)).attr("y", 2493).attr("width", shearBand.bandwidth()).attr("height", 18.4)
  .attr("fill", (d, i) => shearLegendColors[i]);
svg.append("g").selectAll("text").data(shearLegendValues).join("text")
  .attr("x", d => shearBand(d) + shearBand.bandwidth() / 2).attr("y", 2502).text(d => d)
  .attr("text-anchor", "middle").attr("dominant-baseline", "central").attr("font-size", legendFont);
</script>
</body>
</html>
